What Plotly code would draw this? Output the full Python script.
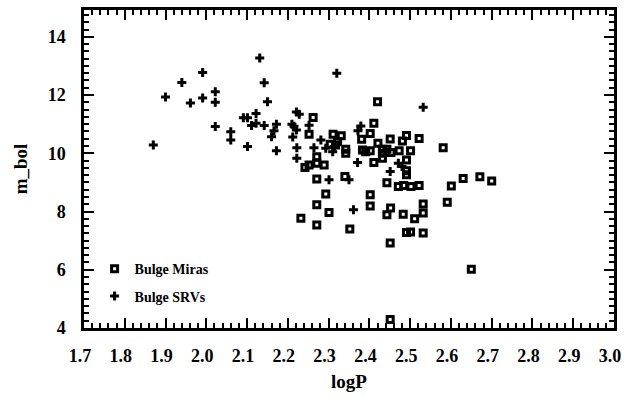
import plotly.graph_objects as go

# Bulge Miras (logP, m_bol)
mira_logp = [2.262, 2.252, 2.311, 2.331, 2.322, 2.304, 2.317, 2.342, 2.342, 2.420,
             2.411, 2.402, 2.381, 2.383, 2.391, 2.402, 2.421, 2.451, 2.491, 2.481,
             2.522, 2.432, 2.443, 2.453, 2.473, 2.432, 2.501, 2.411, 2.432, 2.491,
             2.271, 2.242, 2.252, 2.271, 2.289, 2.271, 2.293, 2.271, 2.301, 2.232,
             2.271, 2.352, 2.340, 2.402, 2.402, 2.443, 2.471, 2.484, 2.502, 2.522,
             2.491, 2.491, 2.452, 2.443, 2.483, 2.511, 2.532, 2.532, 2.491, 2.501,
             2.532, 2.451, 2.451, 2.581, 2.591, 2.601, 2.630, 2.671, 2.700, 2.650]
mira_mbol = [11.23, 10.65, 10.65, 10.60, 10.40, 10.31, 10.28, 10.14, 10.00, 11.77,
             11.03, 10.68, 10.48, 10.11, 10.05, 10.09, 10.34, 10.49, 10.61, 10.42,
             10.51, 10.14, 10.14, 10.03, 10.09, 10.00, 10.09, 9.68, 9.83, 9.77,
             9.88, 9.51, 9.60, 9.66, 9.60, 9.12, 8.60, 8.23, 7.97, 7.77,
             7.54, 7.40, 9.20, 8.58, 8.19, 8.99, 8.86, 8.89, 8.86, 8.89,
             9.40, 9.26, 8.12, 7.89, 7.91, 7.75, 8.26, 7.95, 7.28, 7.30,
             7.26, 6.92, 4.29, 10.19, 8.32, 8.88, 9.13, 9.19, 9.05, 6.02]

# Bulge SRVs (logP, m_bol)
srv_logp = [1.870, 1.900, 1.940, 1.961, 1.991, 1.991, 2.022, 2.022, 2.022, 2.060,
            2.060, 2.091, 2.101, 2.101, 2.111, 2.122, 2.122, 2.131, 2.142, 2.142,
            2.150, 2.160, 2.166, 2.172, 2.172, 2.212, 2.215, 2.221, 2.221, 2.228,
            2.222, 2.222, 2.210, 2.252, 2.264, 2.281, 2.293, 2.310, 2.314, 2.301,
            2.320, 2.350, 2.361, 2.371, 2.372, 2.379, 2.451, 2.471, 2.480, 2.532]
srv_mbol = [10.28, 11.93, 12.43, 11.73, 12.77, 11.90, 12.11, 11.75, 10.92, 10.74,
            10.46, 11.22, 11.22, 10.23, 10.95, 11.03, 11.37, 13.27, 12.42, 10.95,
            11.77, 10.57, 10.77, 11.00, 10.09, 10.56, 10.93, 10.80, 11.42, 11.34,
            10.19, 9.83, 11.00, 10.96, 10.19, 10.46, 10.17, 10.05, 10.23, 9.09,
            12.75, 9.09, 8.06, 9.68, 10.77, 10.94, 9.37, 9.66, 9.55, 11.58]

x_ticks = [1.7, 1.8, 1.9, 2.0, 2.1, 2.2, 2.3, 2.4, 2.5, 2.6, 2.7, 2.8, 2.9, 3.0]
x_ticktext = ["1.7", "1.8", "1.9", "2.0", "2.1", "2.2", "2.3", "2.4", "2.5", "2.6",
              "2.7", "2.8", "2.9", "3.0"]
y_ticks = [4, 6, 8, 10, 12, 14]

FONT = "Liberation Serif"

fig = go.Figure()
fig.add_trace(go.Scatter(
    x=mira_logp, y=mira_mbol, mode="markers", name="Bulge Miras",
    legendgroup="a",
    marker=dict(symbol="square-open", size=6, color="black",
                line=dict(color="black", width=3)),
))
fig.add_trace(go.Scatter(
    x=srv_logp, y=srv_mbol, mode="markers", name="Bulge SRVs",
    legendgroup="b",
    marker=dict(symbol="cross", size=7.5, color="black",
                line=dict(width=0)),
))

axis_common = dict(
    showline=True, linewidth=2.5, linecolor="black", mirror="allticks",
    ticks="inside", ticklen=10, tickwidth=2, tickcolor="black",
    showgrid=False, zeroline=False, automargin=False,
    tickfont=dict(family=FONT, size=18, color="black", weight="bold"),
)

fig.update_xaxes(
    range=[1.7, 3.0], tickvals=x_ticks, ticktext=x_ticktext,
    minor=dict(ticks="inside", ticklen=5, tickwidth=1.5, dtick=0.02,
               tickcolor="black", showgrid=False),
    ticklabelstandoff=10, ticklabelshift=-4, ticklabeloverflow="allow",
    title=dict(text="logP", font=dict(family=FONT, size=19, color="black", weight="bold"),
               standoff=10),
    **axis_common,
)
fig.update_yaxes(
    range=[4, 14.92], tickvals=y_ticks,
    minor=dict(ticks="inside", ticklen=5, tickwidth=1.5, dtick=0.25,
               tickcolor="black", showgrid=False),
    ticklabelstandoff=12,
    title=dict(text="m_bol", font=dict(family=FONT, size=19, color="black", weight="bold"),
               standoff=16),
    **axis_common,
)

fig.update_layout(
    width=625, height=406,
    margin=dict(l=84, r=11, t=10, b=78, autoexpand=False),
    paper_bgcolor="white", plot_bgcolor="white",
    showlegend=True,
    legend=dict(
        x=0.02, y=0.235, xanchor="left", yanchor="top",
        bgcolor="rgba(0,0,0,0)", borderwidth=0,
        font=dict(family=FONT, size=14, color="black", weight="bold"),
        traceorder="grouped", tracegroupgap=6,
    ),
)

# remove the browser's default 8px page margin so the figure fills the window
fig.write_html(
    "out.html",
    config={"displayModeBar": False},
    post_script="document.body.style.margin='0';document.body.style.overflow='hidden';",
)
